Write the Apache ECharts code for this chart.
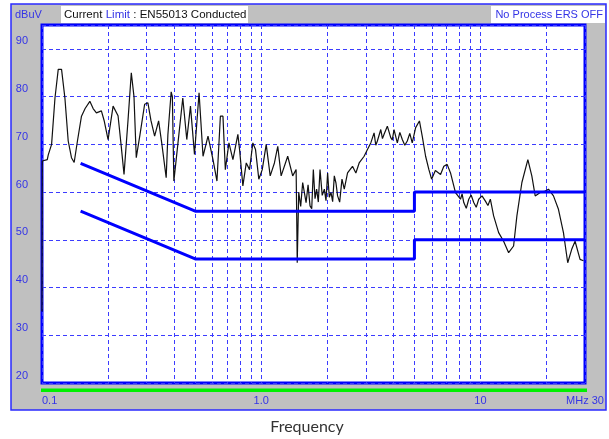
<!DOCTYPE html>
<html>
<head>
<meta charset="utf-8">
<script src="https://cdn.jsdelivr.net/npm/echarts@6/dist/echarts.min.js"></script>
<style>
  html, body { margin: 0; padding: 0; background: #fff; }
  #chart { width: 609px; height: 439px; }
</style>
</head>
<body>
<div id="chart"></div>
<script>
// measured trace, MHz / dBuV
var freqs = [
  0.1, 0.1003, 0.1057, 0.1068, 0.1106, 0.1146, 0.1186, 0.1228, 0.1272, 0.1317,
  0.1363, 0.1402, 0.1451, 0.1514, 0.1573, 0.1653, 0.1711, 0.1771, 0.1866, 0.192,
  0.2002, 0.211, 0.2223, 0.2294, 0.2367, 0.2468, 0.2555, 0.2628, 0.2692, 0.2798,
  0.2939, 0.3042, 0.314, 0.3264, 0.3404, 0.3524, 0.3686, 0.3752, 0.3884, 0.3933,
  0.3995, 0.4165, 0.4388, 0.4576, 0.4757, 0.4961, 0.5206, 0.5428, 0.5719, 0.6026,
  0.6283, 0.6512, 0.6691, 0.6861, 0.7125, 0.7429, 0.7827, 0.7968, 0.8248, 0.8547,
  0.8847, 0.9159, 0.9421, 0.9752, 1.011, 1.054, 1.099, 1.149, 1.19, 1.233,
  1.321, 1.392, 1.443, 1.452, 1.46, 1.483, 1.514, 1.546, 1.602, 1.636,
  1.67, 1.7, 1.729, 1.76, 1.79, 1.822, 1.855, 1.898, 1.941, 1.975,
  2.009, 2.045, 2.082, 2.118, 2.155, 2.193, 2.231, 2.28, 2.336, 2.393,
  2.477, 2.609, 2.703, 2.798, 2.948, 3.052, 3.162, 3.273, 3.332, 3.388,
  3.511, 3.574, 3.635, 3.762, 3.899, 3.961, 4.036, 4.178, 4.29, 4.402,
  4.519, 4.638, 4.762, 4.887, 5.064, 5.27, 5.427, 5.623, 5.821, 5.988,
  6.231, 6.579, 6.81, 7.05, 7.305, 7.697, 8.111, 8.25, 8.397, 8.62,
  8.847, 9.07, 9.323, 9.57, 9.824, 10.17, 10.54, 10.82, 11.1, 11.49,
  12.11, 12.76, 13.45, 14.17, 14.67, 15.46, 16.46, 17.16, 17.78, 18.74,
  19.74, 20.44, 21.54, 22.7, 23.92, 25.02, 26.09, 27.03, 28.48, 29.51
];
var levels = [
  35, 66.5, 66.8, 67.8, 70, 79.7, 85.7, 85.7, 79.7, 70.7,
  67.2, 66.2, 70.7, 75.9, 77.5, 79, 77.5, 76.6, 77, 75,
  71, 78, 76, 70, 63.7, 75, 85, 80, 67.2, 72,
  78.4, 78.7, 75, 71.7, 74.9, 70, 63, 72, 81, 80,
  62.3, 70, 79.7, 71, 78, 67.9, 80.8, 67.5, 71.7, 66.8,
  62.3, 75.9, 75.9, 64.7, 70.3, 66.8, 72.1, 68.9, 61.3, 66.1,
  64.7, 70.3, 68.9, 62.7, 64.7, 70, 63.4, 66.1, 69.6, 63.4,
  67.5, 63.4, 64.7, 55, 45.2, 60, 57, 62, 57.8, 61.5,
  57.1, 56.5, 64.7, 58.6, 60.6, 57.9, 64.7, 59.3, 60.6, 58.2,
  64, 58.9, 59.9, 58, 63.4, 61.9, 59.2, 57.9, 62.7, 60.6,
  64, 65.4, 64, 66.1, 67.5, 68.9, 70.3, 72.4, 69.8, 70.7,
  73.1, 71.2, 72.1, 73.8, 71.4, 70.9, 73.1, 70.3, 72.5, 71,
  69.8, 70.7, 72.3, 70.3, 73.5, 74.9, 71.7, 67.5, 64.7, 62.7,
  64.5, 63.7, 65.4, 65.8, 64, 59.9, 58.5, 59.6, 57.8, 56.6,
  58.5, 59.4, 57.8, 56.8, 58.5, 59.2, 58.1, 57.2, 58.5, 55,
  51.5, 49.7, 47.3, 48.7, 55, 62, 66.8, 63.4, 59.2, 59.9,
  60.2, 60.6, 59.2, 56.4, 51.5, 45.2, 48, 49.7, 45.9, 45.6
];

// EN55013 limit lines
var limitFreqs = [0.15, 0.5, 5, 5, 30];
var qpLimit = [66, 56, 56, 60, 60];
var avLimit = [56, 46, 46, 50, 50];

var xLabels = { '0.1': '0.1', '1': '1.0', '10': '10', '30': 'MHz 30' };

function zip(xs, ys) {
  return xs.map(function(x, i) { return [x, ys[i]]; });
}

var blue = '#0000ff';
var labelBlue = '#3434e6';
var gridLine = { color: '#3c3cff', width: 1, type: [4, 3] };
var font = 'Arial, "Liberation Sans", sans-serif';

var chart = echarts.init(document.getElementById('chart'), null, { renderer: 'canvas' });
chart.setOption({
  animation: false,
  grid: {
    left: 42, right: 24, top: 25, bottom: 56,
    show: true, backgroundColor: '#fff', borderColor: blue, borderWidth: 3
  },
  xAxis: {
    type: 'log', logBase: 10, min: 0.1, max: 30,
    axisLine: { show: false },
    axisTick: { show: false },
    splitLine: { show: true, lineStyle: gridLine },
    minorTick: { show: false, splitNumber: 9 },
    minorSplitLine: { show: true, lineStyle: gridLine },
    axisLabel: {
      color: labelBlue, fontSize: 11, fontFamily: font, margin: 12,
      alignMinLabel: 'left',
      formatter: function(v) {
        var k = String(Math.round(v * 10) / 10);
        return xLabels[k] || '';
      }
    }
  },
  yAxis: {
    type: 'value', min: 20, max: 95, interval: 10,
    axisLine: { show: false },
    axisTick: { show: false },
    splitLine: { show: true, lineStyle: gridLine },
    axisLabel: {
      color: labelBlue, fontSize: 11, fontFamily: font, margin: 14,
      verticalAlign: 'bottom', padding: [0, 0, 2, 0],
      formatter: function(v) { return v > 90 ? '' : String(v); }
    }
  },
  graphic: [
    { type: 'rect', z: -10, shape: { x: 11, y: 4, width: 595, height: 406 },
      style: { fill: '#c0c0c0', stroke: '#2a2aff', lineWidth: 1.5 } },
    { type: 'rect', z: 10, shape: { x: 41, y: 388.5, width: 546, height: 3.5 },
      style: { fill: '#00f000' } },
    { type: 'text', z: 10, x: 15, y: 15,
      style: { text: 'dBuV', fill: labelBlue, font: '11px ' + font, verticalAlign: 'middle' } },
    { type: 'rect', z: 10, shape: { x: 61, y: 6, width: 187, height: 17 },
      style: { fill: '#fff' } },
    { type: 'text', z: 11, x: 64, y: 15,
      style: {
        text: '{k|Current} {b|Limit} {k|: EN55013 Conducted}',
        verticalAlign: 'middle',
        rich: {
          k: { fill: '#111', font: '11.5px ' + font },
          b: { fill: labelBlue, font: '11.5px ' + font }
        }
      } },
    { type: 'rect', z: 10, shape: { x: 491, y: 6, width: 114, height: 17 },
      style: { fill: '#fff' } },
    { type: 'text', z: 11, x: 603, y: 15,
      style: { text: 'No Process ERS OFF', fill: labelBlue, font: '11px ' + font,
        align: 'right', verticalAlign: 'middle' } },
    { type: 'text', z: 10, x: 307, y: 427,
      style: { text: 'Frequency', fill: '#333', font: '16px Lato, "Open Sans", sans-serif',
        align: 'center', verticalAlign: 'middle' } }
  ],
  series: [
    {
      name: 'Trace', type: 'line', data: zip(freqs, levels),
      showSymbol: false, symbol: 'none', z: 3,
      lineStyle: { color: '#111', width: 1.2 }
    },
    {
      name: 'QP', type: 'line', data: zip(limitFreqs, qpLimit),
      symbol: 'none', z: 4, lineStyle: { color: blue, width: 3 }
    },
    {
      name: 'AV', type: 'line', data: zip(limitFreqs, avLimit),
      symbol: 'none', z: 4, lineStyle: { color: blue, width: 3 }
    }
  ]
});
</script>
</body>
</html>
